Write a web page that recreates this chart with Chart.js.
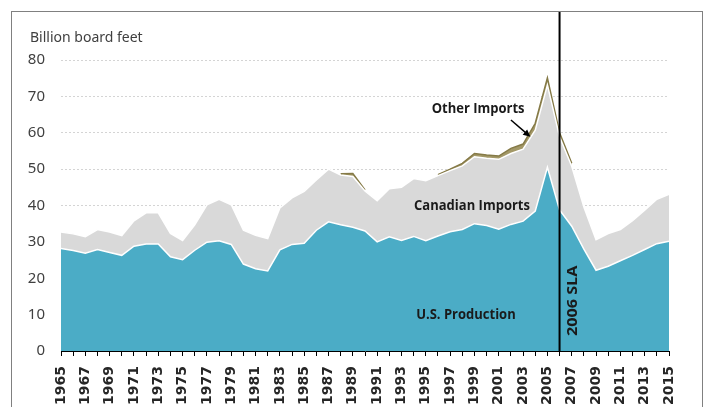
<!DOCTYPE html>
<html>
<head>
<meta charset="utf-8">
<script src="https://cdn.jsdelivr.net/npm/chart.js@4/dist/chart.umd.min.js"></script>
<style>
  html, body { margin: 0; padding: 0; background: #fff; overflow: hidden; }
  #wrap { position: relative; width: 705px; height: 407px; }
  #frame { position: absolute; left: 11px; top: 11px; width: 690px; height: 420px; border: 1px solid #808080; pointer-events: none; }
  canvas { position: absolute; left: 0; top: 0; }
</style>
</head>
<body>
<div id="wrap">
  <canvas id="lumberChart" width="705" height="407"></canvas>
  <div id="frame"></div>
</div>
<script>
const years = ['1965', '1966', '1967', '1968', '1969', '1970', '1971', '1972', '1973', '1974',
    '1975', '1976', '1977', '1978', '1979', '1980', '1981', '1982', '1983', '1984',
    '1985', '1986', '1987', '1988', '1989', '1990', '1991', '1992', '1993', '1994',
    '1995', '1996', '1997', '1998', '1999', '2000', '2001', '2002', '2003', '2004',
    '2005', '2006', '2007', '2008', '2009', '2010', '2011', '2012', '2013', '2014', '2015'];

// billion board feet
const usProduction = [28.2, 27.6, 26.9, 27.9, 27.1, 26.3, 28.8, 29.4, 29.4, 25.9,
    25.1, 27.7, 29.9, 30.3, 29.3, 23.9, 22.6, 22.0, 27.8, 29.3,
    29.6, 33.2, 35.5, 34.7, 34.0, 33.0, 30.0, 31.4, 30.4, 31.5,
    30.3, 31.6, 32.8, 33.4, 35.0, 34.5, 33.5, 34.8, 35.7, 38.5,
    50.5, 38.8, 34.3, 28.0, 22.2, 23.3, 24.8, 26.3, 27.9, 29.5, 30.2];

const canadianImports = [4.5, 4.6, 4.5, 5.5, 5.6, 5.4, 7.0, 8.6, 8.6, 6.4,
    5.3, 7.0, 10.3, 11.4, 10.9, 9.3, 9.2, 8.9, 11.5, 12.8,
    14.3, 13.8, 14.5, 13.7, 14.0, 11.0, 11.3, 13.2, 14.6, 15.9,
    16.5, 16.6, 16.8, 17.5, 18.4, 18.5, 19.2, 19.5, 19.8, 22.2,
    22.6, 20.1, 16.5, 11.6, 8.4, 9.0, 8.6, 9.5, 10.8, 12.2, 12.9];

const otherImports = [null, null, null, null, null, null, null, null, null, null,
    null, null, null, null, null, null, null, null, null, null,
    null, null, null, 0.3, 0.8, 0.3, null, null, null, null,
    null, 0.3, 0.4, 0.7, 0.9, 0.9, 0.9, 1.4, 1.4, 1.9,
    2.0, 1.1, 0.8, null, null, null, null, null, null, null, null];

const yTicks = [0, 10, 20, 30, 40, 50, 60, 70, 80];

// text slightly taller than wide, like the source picture
function tallText(ctx, text, px, py, rot) {
    ctx.save();
    ctx.translate(px, py);
    if (rot) ctx.rotate(rot);
    ctx.scale(1, 1.15);
    ctx.fillText(text, 0, 0);
    ctx.restore();
}

const annotations = {
    id: 'annotations',
    afterDatasetsDraw(chart) {
        const { ctx, chartArea, scales: { x, y } } = chart;
        ctx.save();

        // 2006 SLA marker
        const slaX = x.getPixelForValue(years.indexOf('2006'));
        ctx.strokeStyle = '#000';
        ctx.lineWidth = 2;
        ctx.beginPath();
        ctx.moveTo(slaX, chartArea.bottom);
        ctx.lineTo(slaX, 12);
        ctx.stroke();

        ctx.fillStyle = '#1a1a1a';
        ctx.font = 'bold 13px "Open Sans"';
        ctx.textAlign = 'center';
        ctx.textBaseline = 'middle';
        tallText(ctx, 'Other Imports', x.getPixelForValue(34.3), y.getPixelForValue(66.5));
        tallText(ctx, 'Canadian Imports', x.getPixelForValue(33.8), y.getPixelForValue(39.9));
        tallText(ctx, 'U.S. Production', x.getPixelForValue(33.3), y.getPixelForValue(10.1));

        // arrow to the other imports band
        const ax0 = x.getPixelForValue(37.0), ay0 = y.getPixelForValue(63.5);
        const ax1 = x.getPixelForValue(38.6), ay1 = y.getPixelForValue(58.9);
        const ang = Math.atan2(ay1 - ay0, ax1 - ax0);
        ctx.strokeStyle = '#000';
        ctx.lineWidth = 1.5;
        ctx.beginPath();
        ctx.moveTo(ax0, ay0);
        ctx.lineTo(ax1 - 4 * Math.cos(ang), ay1 - 4 * Math.sin(ang));
        ctx.stroke();
        ctx.fillStyle = '#000';
        ctx.beginPath();
        ctx.moveTo(ax1, ay1);
        ctx.lineTo(ax1 - 8 * Math.cos(ang - 0.45), ay1 - 8 * Math.sin(ang - 0.45));
        ctx.lineTo(ax1 - 8 * Math.cos(ang + 0.45), ay1 - 8 * Math.sin(ang + 0.45));
        ctx.closePath();
        ctx.fill();

        // rotated SLA label
        ctx.fillStyle = '#1a1a1a';
        ctx.font = 'bold 15px "Open Sans"';
        ctx.save();
        ctx.translate(slaX + 13, y.getPixelForValue(13.8));
        ctx.rotate(-Math.PI / 2);
        ctx.scale(1.08, 1);
        ctx.fillText('2006 SLA', 0, 0);
        ctx.restore();

        // unit label
        ctx.fillStyle = '#404040';
        ctx.font = '14px "Noto Sans"';
        ctx.textAlign = 'left';
        ctx.fillText('Billion board feet', chartArea.left - 31, chartArea.top - 22);

        ctx.restore();
    }
};

const ctx = document.getElementById('lumberChart').getContext('2d');

const lumberChart = new Chart(ctx, {
    type: 'line',
    data: {
        labels: years,
        datasets: [{
            label: 'U.S. Production',
            data: usProduction,
            backgroundColor: '#4bacc6',
            borderColor: '#ffffff',
            borderWidth: 1.5,
            fill: 'origin'
        }, {
            label: 'Canadian Imports',
            data: canadianImports,
            backgroundColor: '#d9d9d9',
            borderColor: '#ffffff',
            borderWidth: 1.5,
            fill: '-1'
        }, {
            label: 'Other Imports',
            data: otherImports,
            backgroundColor: '#a39867',
            borderColor: '#857a47',
            borderWidth: 1.5,
            fill: '-1'
        }]
    },
    options: {
        responsive: false,
        animation: false,
        layout: { padding: { left: 0, top: 60, right: 36, bottom: 0 } },
        elements: {
            point: { radius: 0 },
            line: { tension: 0 }
        },
        plugins: {
            legend: { display: false },
            tooltip: { enabled: false }
        },
        scales: {
            x: {
                offset: false,
                grid: {
                    drawOnChartArea: false,
                    drawTicks: true,
                    tickLength: 5,
                    color: '#000'
                },
                border: { display: true, color: '#000', width: 1 },
                ticks: {
                    autoSkip: false,
                    maxRotation: 90,
                    minRotation: 90,
                    padding: 10,
                    color: '#262626',
                    font: { family: 'DejaVu Sans', size: 14, weight: 'bold' },
                    callback: (value, index) => index % 2 === 0 ? years[index] : ''
                },
                afterFit: scale => { scale.height = 56; }
            },
            y: {
                stacked: true,
                min: 0,
                max: 80,
                afterBuildTicks: scale => { scale.ticks = yTicks.map(v => ({ value: v })); },
                grid: {
                    drawTicks: false,
                    color: c => c.tick.value === 0 ? 'rgba(0,0,0,0)' : '#d4d4d4',
                    lineWidth: 1
                },
                border: { display: false, dash: [2, 2] },
                ticks: {
                    padding: 16,
                    color: '#404040',
                    font: { family: 'Noto Sans', size: 15 }
                },
                afterFit: scale => { scale.width = 61; }
            }
        }
    },
    plugins: [annotations]
});
</script>
</body>
</html>
